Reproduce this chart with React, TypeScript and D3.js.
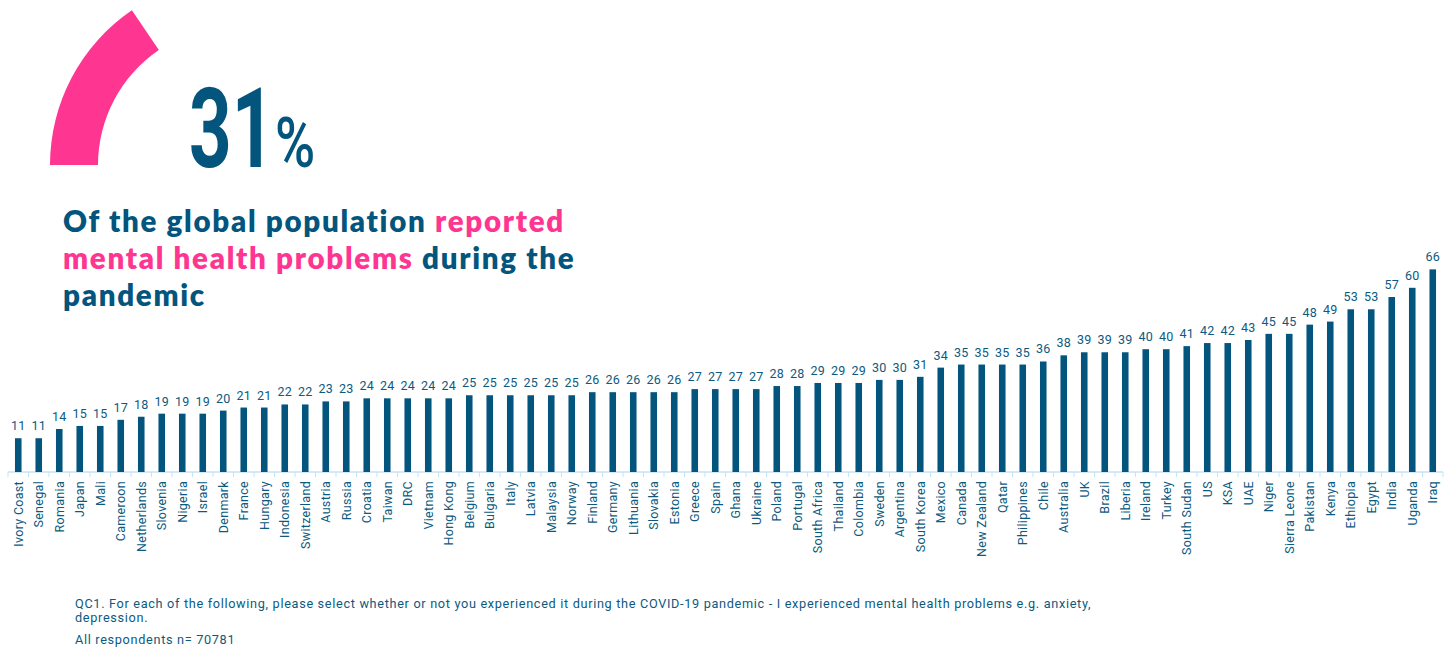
import React from "react";
import * as d3 from "d3";

const countries = ["Ivory Coast","Senegal","Romania","Japan","Mali","Cameroon","Netherlands","Slovenia","Nigeria","Israel","Denmark","France","Hungary","Indonesia","Switzerland","Austria","Russia","Croatia","Taiwan","DRC","Vietnam","Hong Kong","Belgium","Bulgaria","Italy","Latvia","Malaysia","Norway","Finland","Germany","Lithuania","Slovakia","Estonia","Greece","Spain","Ghana","Ukraine","Poland","Portugal","South Africa","Thailand","Colombia","Sweden","Argentina","South Korea","Mexico","Canada","New Zealand","Qatar","Philippines","Chile","Australia","UK","Brazil","Liberia","Ireland","Turkey","South Sudan","US","KSA","UAE","Niger","Sierra Leone","Pakistan","Kenya","Ethiopia","Egypt","India","Uganda","Iraq"];
const values = [11,11,14,15,15,17,18,19,19,19,20,21,21,22,22,23,23,24,24,24,24,24,25,25,25,25,25,25,26,26,26,26,26,27,27,27,27,28,28,29,29,29,30,30,31,34,35,35,35,35,36,38,39,39,39,40,40,41,42,42,43,45,45,48,49,53,53,57,60,66];
const globalShare = 31;
const headlineParts = [
  [{ t: "Of the global population ", pink: false }, { t: "reported", pink: true }],
  [{ t: "mental health problems", pink: true }, { t: " during the", pink: false }],
  [{ t: "pandemic", pink: false }],
];
const footnoteLines = [
  "QC1. For each of the following, please select whether or not you experienced it during the COVID-19 pandemic - I experienced mental health problems e.g. anxiety,",
  "depression.",
];
const sampleNote = "All respondents n= 70781";

const BLUE = "#03557e";
const TEXTBLUE = "#0b5a80";
const PINK = "#ff3592";
const AXIS = "#c3e4f4";

export default function App() {
  const W = 1456, H = 648;
  const x = d3.scaleBand<string>().domain(countries).range([8, 1443]).paddingInner(0.68).paddingOuter(0.34);
  const y = d3.scaleLinear().domain([0, 70]).range([472, 472 - 70 * 3.07]);
  const step = x.step();

  const arc = d3.arc()({
    innerRadius: 139,
    outerRadius: 187,
    startAngle: -Math.PI / 2,
    endAngle: -Math.PI / 2 + (globalShare / 100) * Math.PI,
  } as any) as string;

  return (
    <svg width={W} height={H} style={{ position: "absolute", left: 0, top: 0 }}>
      <rect width={W} height={H} fill="#fff" />
      <path d={arc} transform="translate(237,165)" fill={PINK} />
      <g transform="translate(189,167) scale(0.67,1)">
        <text x={0} y={0} fontFamily="Roboto" fontWeight={700} fontSize={111} fill={BLUE}>31</text>
      </g>
      <g transform="translate(275,167) scale(0.78,1)">
        <text x={0} y={0} fontFamily="Roboto" fontWeight={500} fontSize={70} fill={BLUE}>%</text>
      </g>
      {headlineParts.map((line, i) => (
        <text key={i} x={63} y={232 + i * 37} fontFamily="Lato" fontWeight={800} fontSize={29.5} letterSpacing={1.7} fill={BLUE}>
          {line.map((p, j) => (
            <tspan key={j} fill={p.pink ? PINK : BLUE}>{p.t}</tspan>
          ))}
        </text>
      ))}
      <line x1={8} x2={1443} y1={y(0)} y2={y(0)} stroke={AXIS} strokeWidth={1.5} />
      {d3.range(countries.length + 1).map((i) => {
        const tx = 8 + i * step;
        return <line key={i} x1={tx} x2={tx} y1={y(0)} y2={y(0) + 5} stroke={AXIS} strokeWidth={1} />;
      })}
      {countries.map((c, i) => {
        const bx = x(c)!;
        const cx = bx + x.bandwidth() / 2;
        return (
          <g key={c}>
            <rect x={bx} y={y(values[i])} width={x.bandwidth()} height={y(0) - y(values[i])} fill={BLUE} />
            <text x={cx} y={y(values[i]) - 8} textAnchor="middle" fontFamily="Roboto" fontSize={12.5} letterSpacing={0.3} fill={TEXTBLUE}>{values[i]}</text>
            <text transform={`translate(${cx},${y(0) + 9}) rotate(-90)`} textAnchor="end" dy="0.35em" fontFamily="Roboto" fontSize={12.5} letterSpacing={0.3} fill={TEXTBLUE}>{c}</text>
          </g>
        );
      })}
      {footnoteLines.map((l, i) => (
        <text key={i} x={75} y={608 + i * 14} fontFamily="Roboto" fontSize={12.7} letterSpacing={0.68} fill={TEXTBLUE}>{l}</text>
      ))}
      <text x={75} y={644} fontFamily="Roboto" fontSize={12.7} letterSpacing={0.68} fill={TEXTBLUE}>{sampleNote}</text>
    </svg>
  );
}
